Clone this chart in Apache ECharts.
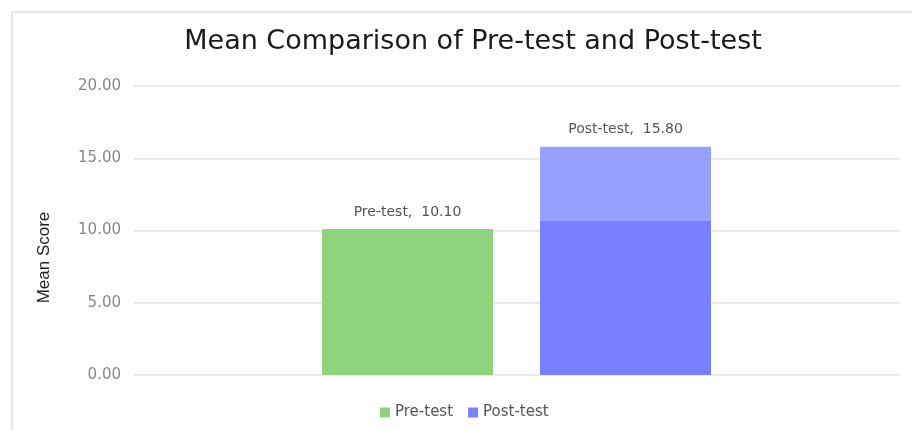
<!DOCTYPE html>
<html>
<head>
<meta charset="utf-8">
<script src="https://cdn.jsdelivr.net/npm/echarts@6/dist/echarts.min.js"></script>
<style>
  html, body { margin: 0; padding: 0; background: #fff; overflow: hidden; }
  #main { width: 912px; height: 430px; }
</style>
</head>
<body>
<div id="main"></div>
<script>
var categories = ['Mean'];
var seriesNames = ['Pre-test', 'Post-test'];
var preTest = [10.10];
var postTest = [15.80];
var yTicks = [0, 5, 10, 15, 20];

var font = '"DejaVu Sans", sans-serif';

var myChart = echarts.init(document.getElementById('main'));

function barLabel(p) {
    return p.seriesName + ',  ' + p.value.toFixed(2);
}

var option = {
    backgroundColor: '#fff',
    animation: false,
    title: {
        text: 'Mean Comparison of Pre-test and Post-test',
        left: 468,
        textAlign: 'center',
        top: 23,
        textStyle: { fontFamily: font, fontSize: 27, fontWeight: 'normal', color: '#1a1a1a' }
    },
    legend: {
        data: [
            { name: seriesNames[0], itemStyle: { color: '#8ed47c' } },
            { name: seriesNames[1], itemStyle: { color: '#7a82ff' } }
        ],
        left: 375,
        top: 400,
        itemWidth: 10,
        itemHeight: 10,
        itemGap: 15,
        icon: 'rect',
        textStyle: { fontFamily: font, fontSize: 15, color: '#555' }
    },
    grid: { left: 133, right: 12, top: 86, bottom: 55 },
    xAxis: {
        type: 'category',
        data: categories,
        axisLine: { show: false },
        axisTick: { show: false },
        axisLabel: { show: false }
    },
    yAxis: {
        type: 'value',
        min: yTicks[0],
        max: yTicks[yTicks.length - 1],
        interval: yTicks[1] - yTicks[0],
        name: 'Mean Score',
        nameLocation: 'middle',
        nameGap: 80,
        nameTextStyle: {
            fontFamily: '"Liberation Sans", sans-serif',
            fontSize: 17,
            color: '#222',
            padding: [0, 54, 0, 0]
        },
        axisLine: { show: false },
        axisTick: { show: false },
        axisLabel: {
            margin: 12,
            fontFamily: font,
            fontSize: 15,
            color: '#888',
            formatter: function (v) { return v.toFixed(2); }
        },
        splitLine: { lineStyle: { color: '#e4e4e4', width: 1.5 } }
    },
    series: [
        {
            name: seriesNames[0],
            type: 'bar',
            data: preTest,
            barWidth: 171,
            barGap: '27.5%',
            itemStyle: { color: '#8ed47c' },
            label: {
                show: true,
                position: 'top',
                distance: 10,
                fontFamily: font,
                fontSize: 14,
                color: '#555',
                formatter: barLabel
            }
        },
        {
            name: seriesNames[1],
            type: 'bar',
            data: postTest,
            barWidth: 171,
            itemStyle: {
                color: {
                    type: 'linear', x: 0, y: 0, x2: 0, y2: 1,
                    colorStops: [
                        { offset: 0, color: '#98a0ff' },
                        { offset: 0.325, color: '#98a0ff' },
                        { offset: 0.326, color: '#7880ff' },
                        { offset: 1, color: '#7880ff' }
                    ]
                }
            },
            label: {
                show: true,
                position: 'top',
                distance: 10,
                fontFamily: font,
                fontSize: 14,
                color: '#555',
                formatter: barLabel
            }
        }
    ],
    graphic: [
        { type: 'line', shape: { x1: 12, y1: 12, x2: 912, y2: 12 }, style: { stroke: '#e6e6e6', lineWidth: 2 } },
        { type: 'line', shape: { x1: 12, y1: 12, x2: 12, y2: 430 }, style: { stroke: '#e6e6e6', lineWidth: 2 } }
    ]
};
myChart.setOption(option);
</script>
</body>
</html>
